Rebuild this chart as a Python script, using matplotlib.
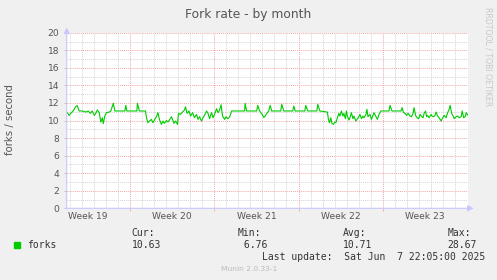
"""Munin style 'Fork rate - by month' graph."""

import matplotlib.pyplot as plt
import numpy as np

# hours since the left edge of the graph window (2 h per rrd step)
hours = [
    1, 5, 8, 13, 18, 21, 25, 31, 38, 43, 47, 51, 55, 58, 61, 65, 68, 71, 73, 76,
    79, 85, 88, 93, 96, 116, 118, 120, 140, 141, 145, 157, 160, 162, 165, 169, 172, 175, 179, 182,
    185, 189, 192, 195, 199, 202, 205, 209, 211, 214, 217, 221, 223, 227, 231, 235, 237, 240, 244, 247,
    251, 255, 259, 262, 265, 269, 272, 275, 279, 282, 285, 289, 292, 295, 299, 302, 305, 308, 311, 315,
    318, 321, 325, 329, 355, 356, 359, 379, 381, 385, 390, 393, 396, 399, 403, 406, 409, 427, 429, 433,
    451, 453, 456, 475, 477, 481, 499, 501, 505, 520, 522, 524, 527, 529, 532, 535, 537, 540, 543, 545,
    548, 551, 553, 556, 558, 560, 563, 565, 568, 571, 573, 577, 580, 583, 585, 588, 591, 593, 597, 599,
    601, 605, 608, 611, 613, 617, 620, 623, 627, 643, 645, 649, 667, 669, 672, 675, 678, 681, 685, 688,
    691, 693, 696, 699, 702, 705, 708, 711, 713, 716, 718, 720, 723, 727, 729, 732, 735, 737, 740, 743,
    747, 750, 753, 757, 760, 763, 765, 768, 771, 773, 777, 780, 783, 787, 789, 792, 795, 797, 800,
]
forks = [
    10.90, 10.59, 10.82, 11.09, 11.60, 11.70, 11.09, 11.09, 10.97, 11.09, 10.82, 11.09, 10.59, 10.82, 11.20, 10.90, 9.83, 10.32, 9.65, 10.51,
    10.90, 10.97, 11.09, 11.96, 11.09, 11.09, 11.73, 11.09, 11.09, 11.96, 11.09, 11.09, 10.13, 9.75, 9.94, 10.13, 9.75, 10.06, 10.44, 10.90,
    10.13, 9.56, 9.94, 9.68, 10.02, 9.83, 10.06, 10.44, 10.13, 9.68, 9.94, 9.56, 10.82, 10.70, 10.97, 11.20, 11.58, 10.82, 11.09, 10.51,
    10.90, 10.32, 10.70, 10.13, 10.44, 9.94, 10.32, 10.59, 11.09, 10.82, 10.21, 10.90, 10.32, 10.70, 11.35, 10.90, 11.20, 11.80, 10.50, 10.13,
    10.44, 10.21, 10.40, 11.09, 11.09, 11.96, 11.09, 11.09, 11.73, 11.09, 10.70, 10.35, 10.50, 10.80, 11.09, 11.73, 11.09, 11.09, 11.85, 11.09,
    11.09, 11.65, 11.09, 11.09, 11.73, 11.09, 11.09, 11.85, 11.09, 10.97, 10.21, 9.75, 10.32, 9.68, 9.56, 9.83, 9.75, 10.32, 10.82, 10.51,
    11.09, 10.51, 10.82, 10.21, 11.09, 10.51, 10.06, 10.32, 10.90, 10.21, 10.51, 9.94, 10.21, 10.44, 10.70, 10.21, 10.51, 10.32, 10.70, 11.28,
    10.44, 10.70, 10.13, 10.59, 10.90, 10.44, 10.13, 10.70, 11.09, 11.09, 11.73, 11.09, 11.09, 11.47, 10.90, 10.82, 10.59, 10.82, 10.51, 10.44,
    10.82, 11.47, 10.59, 10.32, 10.21, 10.70, 10.44, 10.32, 10.82, 11.09, 10.44, 10.59, 10.32, 10.70, 10.51, 10.44, 10.59, 10.97, 10.51, 10.32,
    9.94, 10.32, 10.59, 10.32, 10.90, 11.28, 11.73, 10.82, 10.51, 10.21, 10.44, 10.51, 10.32, 10.44, 11.09, 10.32, 10.44, 10.90, 10.63,
]

window_hours = 800
first_day = 6.5        # first midnight after window start (hours)
first_week = 126.5     # first Monday 00:00 (hours)
week_labels = ["Week 19", "Week 20", "Week 21", "Week 22", "Week 23"]

stat_names = ["Cur:", "Min:", "Avg:", "Max:"]
stat_values = ["10.63", " 6.76", "10.71", "28.67"]
last_update = "Last update:  Sat Jun  7 22:05:00 2025"

W, H = 497, 280
BG = "#F0F0F0"
GREEN = "#00CC00"
TEXT = "#555555"
AXIS = "#C8C8FF"

fig = plt.figure(figsize=(W / 100, H / 100), dpi=100, facecolor=BG)
left, right, top, bottom = 66.7, 467.7, 32.8, 208.3
ax = fig.add_axes([left / W, 1 - bottom / H, (right - left) / W, (bottom - top) / H])
ax.set_facecolor("white")
ax.set_xlim(0, window_hours)
ax.set_ylim(0, 20)

days = np.arange(first_day, window_hours - 4, 24)
weeks = first_week + 168 * np.arange(len(week_labels) - 1)
week_centers = first_week - 84 + 168 * np.arange(len(week_labels))
dotted = (0, (1, 1))
for d in days:
    if not np.any(np.isclose(weeks, d)):
        ax.axvline(d, color="#D4D4D4", lw=0.7, ls=dotted, zorder=1)
for v in range(1, 20, 2):
    ax.axhline(v, color="#D4D4D4", lw=0.7, ls=dotted, zorder=1)
for v in range(2, 21, 2):
    ax.axhline(v, color="#F2A8A8", lw=0.7, ls=dotted, zorder=1)
for w in weeks:
    ax.axvline(w, color="#F2A8A8", lw=0.7, ls=dotted, zorder=1)

ax.plot(hours, forks, color=GREEN, lw=0.8, zorder=3)

for s in ax.spines.values():
    s.set_visible(False)

ax.set_yticks(range(0, 21, 2))
ax.tick_params(axis="y", length=2, width=0.6, color="#BBBBBB", pad=3.2,
               labelsize=6.6, labelcolor=TEXT)
ax.set_xticks(week_centers, week_labels)
ax.tick_params(axis="x", length=0, pad=3, labelsize=6.6, labelcolor=TEXT)
ax.set_xticks(weeks, minor=True)
ax.tick_params(axis="x", which="minor", length=2, width=0.6, color="#F2A8A8")

# axis lines with arrow heads, rrdtool style
ax.annotate("", xy=(0, 1.03), xytext=(0, 0), xycoords="axes fraction",
            arrowprops=dict(arrowstyle="-|>,head_length=0.35,head_width=0.18",
                            color=AXIS, lw=0.8, shrinkA=0, shrinkB=0))
ax.annotate("", xy=(1.015, 0), xytext=(-0.005, 0), xycoords="axes fraction",
            arrowprops=dict(arrowstyle="-|>,head_length=0.35,head_width=0.18",
                            color=AXIS, lw=0.8, shrinkA=0, shrinkB=0))

fig.text(248 / W, 1 - 18.3 / H, "Fork rate - by month", ha="center", va="baseline",
         fontsize=8.8, color=TEXT)
fig.text(10 / W, 1 - 120 / H, "forks / second", rotation=90, ha="center", va="center",
         fontsize=7.3, color=TEXT)
fig.text(488 / W, 1 - 56.5 / H, "RRDTOOL / TOBI OETIKER", rotation=270, ha="center",
         va="center", fontsize=5.6, color="#C8C8C8")

mono = "DejaVu Sans Mono"
for x, name, val in zip([131.5, 237.7, 342.5, 447.7], stat_names, stat_values):
    fig.text(x / W, 1 - 233.5 / H, name, family=mono, fontsize=7, color="#333333", va="center")
    fig.text(x / W, 1 - 245 / H, val, family=mono, fontsize=7, color="#333333", va="center")
fig.patches.append(plt.Rectangle((14 / W, 1 - 247.7 / H), 6 / W, 6 / H,
                                 transform=fig.transFigure, color=GREEN))
fig.text(26.7 / W, 1 - 245 / H, "forks", family=mono, fontsize=7, color="#333333", va="center")
fig.text(261.7 / W, 1 - 257.3 / H, last_update, family=mono, fontsize=7, color="#333333",
         va="center")
fig.text(248.7 / W, 1 - 269.3 / H, "Munin 2.0.33-1", ha="center", va="center",
         fontsize=5.4, color="#BBBBBB")

fig.savefig("out.png", dpi=100, facecolor=BG)
